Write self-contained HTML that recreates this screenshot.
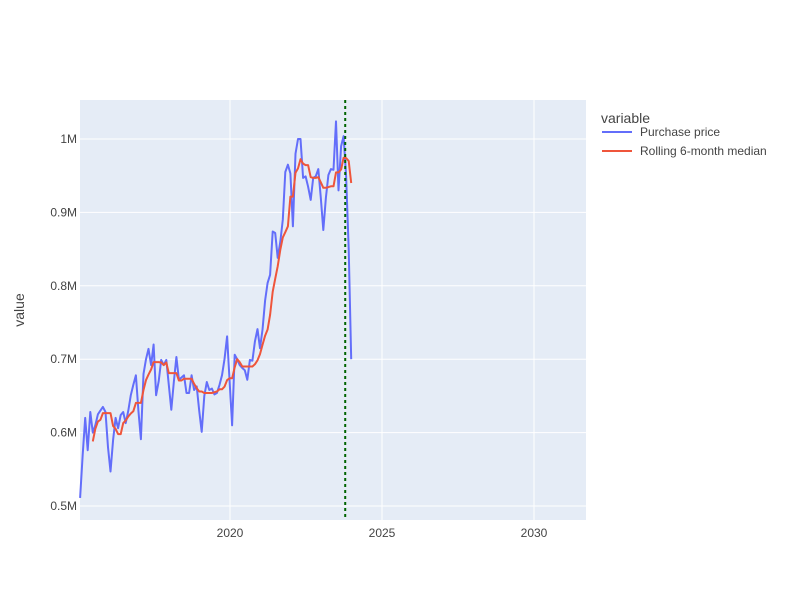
<!DOCTYPE html>
<html><head><meta charset="utf-8"><style>
body{margin:0;background:#fff;font-family:"Liberation Sans",sans-serif}
svg text{font-family:"Liberation Sans",sans-serif}
</style></head><body>
<svg id="chart" width="800" height="600" xmlns="http://www.w3.org/2000/svg">
<rect width="800" height="600" fill="#fff"/>
<rect x="80" y="100" width="506" height="420" fill="#e5ecf6"/>
<g id="grid"></g>
<g id="lines"></g>
<g id="ticks"></g>
<text x="0" y="0" transform="translate(24,310) rotate(-90)" text-anchor="middle" font-size="14" fill="#444">value</text>
<g>
<text x="601" y="123" font-size="14" fill="#444">variable</text>
<line x1="602" y1="132" x2="632" y2="132" stroke="#636efa" stroke-width="2"/>
<text x="640" y="136" font-size="12" fill="#444">Purchase price</text>
<line x1="602" y1="151" x2="632" y2="151" stroke="#ef553b" stroke-width="2"/>
<text x="640" y="155" font-size="12" fill="#444">Rolling 6-month median</text>
</g>
</svg>
<script>
const startYear = 2015.07;
const prices = [
0.511,0.57,0.62,0.576,0.628,0.60,0.61,0.625,0.63,0.635,0.628,0.58,
0.547,0.59,0.62,0.606,0.624,0.628,0.613,0.63,0.651,0.665,0.678,0.63,
0.591,0.68,0.70,0.714,0.692,0.72,0.651,0.67,0.699,0.692,0.699,0.665,
0.631,0.67,0.703,0.672,0.675,0.678,0.654,0.654,0.678,0.658,0.663,0.63,
0.601,0.65,0.669,0.658,0.66,0.652,0.654,0.665,0.678,0.70,0.731,0.67,
0.61,0.706,0.70,0.692,0.688,0.685,0.672,0.699,0.698,0.724,0.741,0.715,
0.74,0.78,0.804,0.815,0.874,0.872,0.838,0.86,0.89,0.955,0.965,0.953,
0.881,0.98,1.0,1.0,0.947,0.949,0.935,0.917,0.947,0.949,0.959,0.92,
0.876,0.92,0.951,0.959,0.958,1.024,0.93,0.99,1.004,0.95,0.85,0.70];
const xTicks = [2020,2025,2030];
const yTicks = [0.5,0.6,0.7,0.8,0.9,1.0];
const yTickLabels = ["0.5M","0.6M","0.7M","0.8M","0.9M","1M"];
const markerDate = 2023.79;

const xs = v => 78 + (v-2015)*30.4;
const ys = v => 506 - (v-0.5)*734;
const NS = "http://www.w3.org/2000/svg";
function mk(tag, attrs, parent){const e=document.createElementNS(NS,tag);for(const k in attrs)e.setAttribute(k,attrs[k]);parent.appendChild(e);return e;}
const grid=document.getElementById('grid'), lines=document.getElementById('lines'), ticks=document.getElementById('ticks');
xTicks.forEach(t=>{
  const l=mk('line',{x1:xs(t),x2:xs(t),y1:100,y2:520,stroke:'#fff','stroke-width':1},grid);
  
  
  const tx=mk('text',{x:xs(t),y:537,'text-anchor':'middle','font-size':12,fill:'#444'},ticks);
  tx.textContent=t;
  
  
});
yTicks.forEach((t,i)=>{
  const l=mk('line',{x1:80,x2:586,y1:ys(t),y2:ys(t),stroke:'#fff','stroke-width':1},grid);
  
  
  const tx=mk('text',{x:77,y:ys(t)+4,'text-anchor':'end','font-size':12,fill:'#444'},ticks);
  tx.textContent=yTickLabels[i];
  
  
});
const dateOf = i => startYear + i/12;
const p1 = prices.map((v,i)=>xs(dateOf(i)).toFixed(1)+','+ys(v).toFixed(1)).join(' ');
const pl=mk('polyline',{points:p1,fill:'none',stroke:'#636efa','stroke-width':2,'stroke-linejoin':'round'},lines);


const med=[];
for(let i=5;i<prices.length;i++){const w=prices.slice(i-5,i+1).sort((a,b)=>a-b);med.push([i,(w[2]+w[3])/2]);}
const p2=med.map(([i,v])=>xs(dateOf(i)).toFixed(1)+','+ys(v).toFixed(1)).join(' ');
const ml=mk('polyline',{points:p2,fill:'none',stroke:'#ef553b','stroke-width':2,'stroke-linejoin':'round'},lines);


const vl=mk('line',{x1:xs(markerDate),x2:xs(markerDate),y1:100,y2:520,stroke:'#006400','stroke-width':2,'stroke-dasharray':'3,3'},lines);


</script>
</body></html>
